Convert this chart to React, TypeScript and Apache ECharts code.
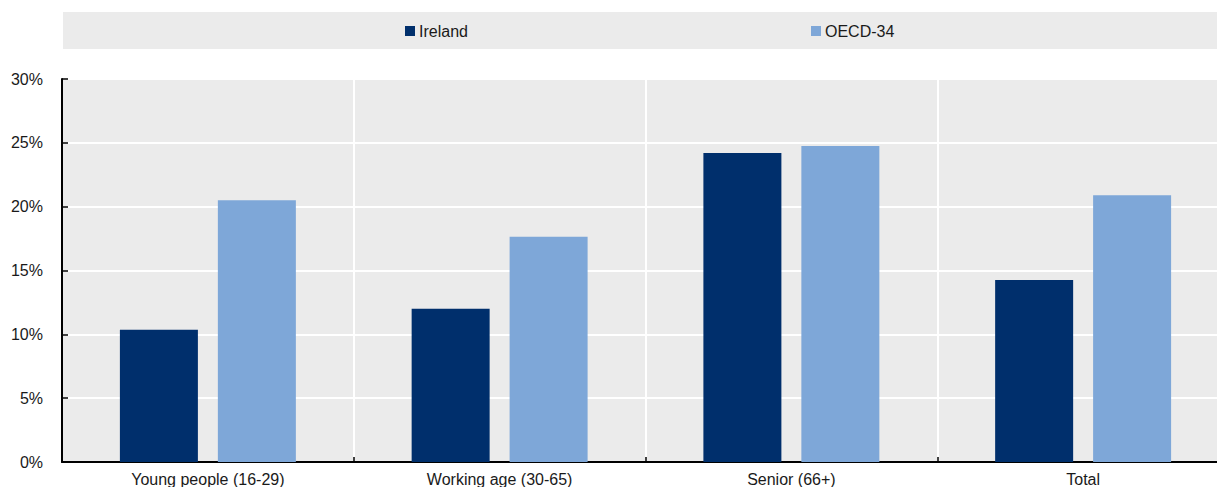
import React, { useEffect, useRef } from "react";
import * as echarts from "echarts";

// Age groups on the x axis
const categories = [
  "Young people (16-29)",
  "Working age (30-65)",
  "Senior (66+)",
  "Total",
];

// Shares in percent
const irelandValues = [10.35, 12.0, 24.2, 14.25];
const oecdValues = [20.5, 17.65, 24.75, 20.9];

const yTicks = { min: 0, max: 30, interval: 5 };

const DARK = "#002f6c";
const LIGHT = "#7ea7d8";
const PANEL = "#ebebeb";
const TEXT = "#1a1a1a";
const FONT = "'Liberation Sans', Arial, sans-serif";

export default function App() {
  const ref = useRef<HTMLDivElement>(null);

  useEffect(() => {
    document.body.style.overflow = "hidden";
    if (!ref.current) return;
    const chart = echarts.init(ref.current, undefined, { renderer: "svg" });
    chart.setOption({
      animation: false,
      backgroundColor: "#ffffff",
      textStyle: { fontFamily: FONT, color: TEXT },
      graphic: [
        {
          type: "rect",
          z: 0,
          shape: { x: 63, y: 12, width: 1170, height: 37 },
          style: { fill: PANEL },
        },
      ],
      legend: [
        {
          data: ["Ireland"],
          left: 405,
          top: 23,
          padding: 0,
          icon: "rect",
          itemWidth: 10,
          itemHeight: 10,
          textStyle: { fontFamily: FONT, fontSize: 16, color: TEXT, padding: [0, 0, 0, -1] },
        },
        {
          data: ["OECD-34"],
          left: 811,
          top: 23,
          padding: 0,
          icon: "rect",
          itemWidth: 10,
          itemHeight: 10,
          textStyle: { fontFamily: FONT, fontSize: 16, color: TEXT, padding: [0, 0, 0, -1] },
        },
      ],
      grid: {
        left: 62,
        right: 0,
        top: 79,
        bottom: 24,
        show: true,
        backgroundColor: PANEL,
        borderWidth: 0,
      },
      xAxis: {
        type: "category",
        data: categories,
        axisLine: { show: true, lineStyle: { color: "#000", width: 2 } },
        axisTick: { show: true, inside: true, length: 5, lineStyle: { color: "#000", width: 1.5 } },
        axisLabel: { fontFamily: FONT, fontSize: 16, color: TEXT, margin: 9 },
        splitLine: { show: true, interval: 0, lineStyle: { color: "#ffffff", width: 2 } },
      },
      yAxis: {
        type: "value",
        min: yTicks.min,
        max: yTicks.max,
        interval: yTicks.interval,
        axisLine: { show: true, lineStyle: { color: "#000", width: 2 } },
        axisTick: { show: true, inside: true, length: 6, lineStyle: { color: "#000", width: 1.5 } },
        axisLabel: {
          fontFamily: FONT,
          fontSize: 16,
          color: TEXT,
          margin: 19,
          formatter: "{value}%",
        },
        splitLine: { show: true, lineStyle: { color: "#ffffff", width: 2 } },
      },
      series: [
        {
          name: "Ireland",
          type: "bar",
          data: irelandValues,
          barWidth: 78,
          barGap: "25.6%",
          itemStyle: { color: DARK },
        },
        {
          name: "OECD-34",
          type: "bar",
          data: oecdValues,
          barWidth: 78,
          barGap: "25.6%",
          itemStyle: { color: LIGHT },
        },
      ],
    });
    return () => chart.dispose();
  }, []);

  // The plot runs a little past the right edge of the window
  return (
    <div
      ref={ref}
      style={{ position: "fixed", left: 0, top: 0, width: 1229, height: 487 }}
    />
  );
}
